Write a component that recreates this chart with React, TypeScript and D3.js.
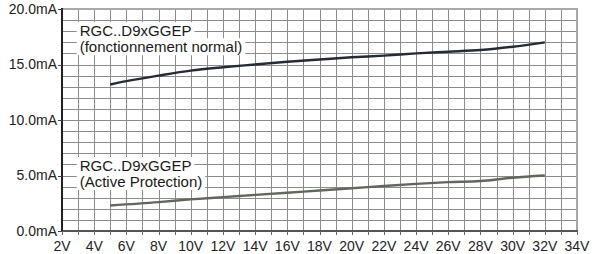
import React, { useRef, useEffect } from 'react';
import * as d3 from 'd3';

// supply voltage (V) and current (mA)
const normalVolts = [5, 6, 8, 10, 12, 14, 16, 18, 20, 22, 24, 26, 28, 30, 32];
const normalAmps = [13.2, 13.5, 14.0, 14.45, 14.75, 15.0, 15.25, 15.45, 15.65, 15.8, 16.0, 16.15, 16.3, 16.6, 17.0];

const protVolts = [5, 8, 10, 12, 14, 16, 18, 20, 22, 24, 26, 28, 30, 32];
const protAmps = [2.3, 2.6, 2.85, 3.05, 3.25, 3.45, 3.65, 3.85, 4.05, 4.25, 4.4, 4.5, 4.8, 5.0];

const xTicks = [2, 4, 6, 8, 10, 12, 14, 16, 18, 20, 22, 24, 26, 28, 30, 32, 34];
const yTicks = [0, 5, 10, 15, 20];

const labels = [
    { lines: ['RGC..D9xGGEP', '(fonctionnement normal)'], v: 3.1, mA: 17.55 },
    { lines: ['RGC..D9xGGEP', '(Active Protection)'], v: 3.1, mA: 5.4 },
];

const App = () => {
    const svgRef = useRef(null);

    useEffect(() => {
        const width = 595;
        const height = 254;
        const svg = d3.select(svgRef.current)
            .attr('width', width)
            .attr('height', height);
        svg.selectAll('*').remove();

        const x = d3.scaleLinear().domain([2, 34]).range([62, 577]);
        const y = d3.scaleLinear().domain([0, 20]).range([231, 9]);
        const font = 'Arial, "Liberation Sans", sans-serif';

        // grid every 1V / 1mA
        const grid = svg.append('g').attr('shape-rendering', 'crispEdges');
        grid.selectAll('.vg')
            .data(d3.range(3, 34))
            .enter()
            .append('line')
            .attr('x1', d => Math.round(x(d)) + 0.5)
            .attr('x2', d => Math.round(x(d)) + 0.5)
            .attr('y1', y(20))
            .attr('y2', y(0))
            .attr('stroke', '#8c8c8c');
        grid.selectAll('.hg')
            .data(d3.range(1, 20))
            .enter()
            .append('line')
            .attr('y1', d => Math.round(y(d)) + 0.5)
            .attr('y2', d => Math.round(y(d)) + 0.5)
            .attr('x1', x(2))
            .attr('x2', x(34))
            .attr('stroke', '#8c8c8c');

        // frame
        grid.append('line')
            .attr('x1', x(2)).attr('x2', x(34) + 1)
            .attr('y1', y(20)).attr('y2', y(20))
            .attr('stroke', '#a8a8a8').attr('stroke-width', 2);
        grid.append('line')
            .attr('x1', x(34)).attr('x2', x(34))
            .attr('y1', y(20)).attr('y2', y(0))
            .attr('stroke', '#a8a8a8').attr('stroke-width', 2);
        grid.append('line')
            .attr('x1', x(2)).attr('x2', x(34) + 1)
            .attr('y1', y(0)).attr('y2', y(0))
            .attr('stroke', '#555').attr('stroke-width', 2);
        grid.append('line')
            .attr('x1', x(2)).attr('x2', x(2))
            .attr('y1', y(20) - 1).attr('y2', y(0) + 1)
            .attr('stroke', '#222').attr('stroke-width', 2);

        // axis ticks
        grid.selectAll('.xt')
            .data(d3.range(2, 35))
            .enter()
            .append('line')
            .attr('x1', d => Math.round(x(d)) + 0.5)
            .attr('x2', d => Math.round(x(d)) + 0.5)
            .attr('y1', y(0))
            .attr('y2', y(0) + 4)
            .attr('stroke', '#666');
        grid.selectAll('.yt')
            .data(yTicks)
            .enter()
            .append('line')
            .attr('x1', x(2) - 4)
            .attr('x2', x(2))
            .attr('y1', d => Math.round(y(d)) + 0.5)
            .attr('y2', d => Math.round(y(d)) + 0.5)
            .attr('stroke', '#444');

        svg.selectAll('.xl')
            .data(xTicks)
            .enter()
            .append('text')
            .attr('x', d => x(d))
            .attr('y', 251)
            .attr('text-anchor', 'middle')
            .style('font-family', font)
            .style('font-size', '14px')
            .attr('fill', '#222')
            .text(d => d + 'V');

        svg.selectAll('.yl')
            .data(yTicks)
            .enter()
            .append('text')
            .attr('x', 57)
            .attr('y', d => y(d))
            .attr('dy', '0.35em')
            .attr('text-anchor', 'end')
            .style('font-family', font)
            .style('font-size', '14px')
            .attr('fill', '#222')
            .text(d => d.toFixed(1) + 'mA');

        // curves
        const line = d3.line()
            .x(d => x(d[0]))
            .y(d => y(d[1]))
            .curve(d3.curveMonotoneX);

        svg.append('path')
            .datum(normalVolts.map((v, i) => [v, normalAmps[i]]))
            .attr('d', line)
            .attr('fill', 'none')
            .attr('stroke', '#262b36')
            .attr('stroke-width', 2.4);

        svg.append('path')
            .datum(protVolts.map((v, i) => [v, protAmps[i]]))
            .attr('d', line)
            .attr('fill', 'none')
            .attr('stroke', '#62675e')
            .attr('stroke-width', 2.4);

        // labels with white boxes behind each line
        labels.forEach(lab => {
            const g = svg.append('g');
            lab.lines.forEach((t, i) => {
                const bg = g.append('rect').attr('fill', '#fff');
                const txt = g.append('text')
                    .attr('x', x(lab.v))
                    .attr('y', y(lab.mA) + i * 16)
                    .style('font-family', font)
                    .style('font-size', '15px')
                    .attr('fill', '#1a1a1a')
                    .text(t);
                const w = txt.node().getComputedTextLength();
                bg.attr('x', x(lab.v) - 3)
                    .attr('y', y(lab.mA) + i * 16 - 14)
                    .attr('width', w + 6)
                    .attr('height', 17);
            });
        });
    }, []);

    return <svg ref={svgRef} style={{ position: 'absolute', left: 0, top: 0 }}></svg>;
};

export default App;
